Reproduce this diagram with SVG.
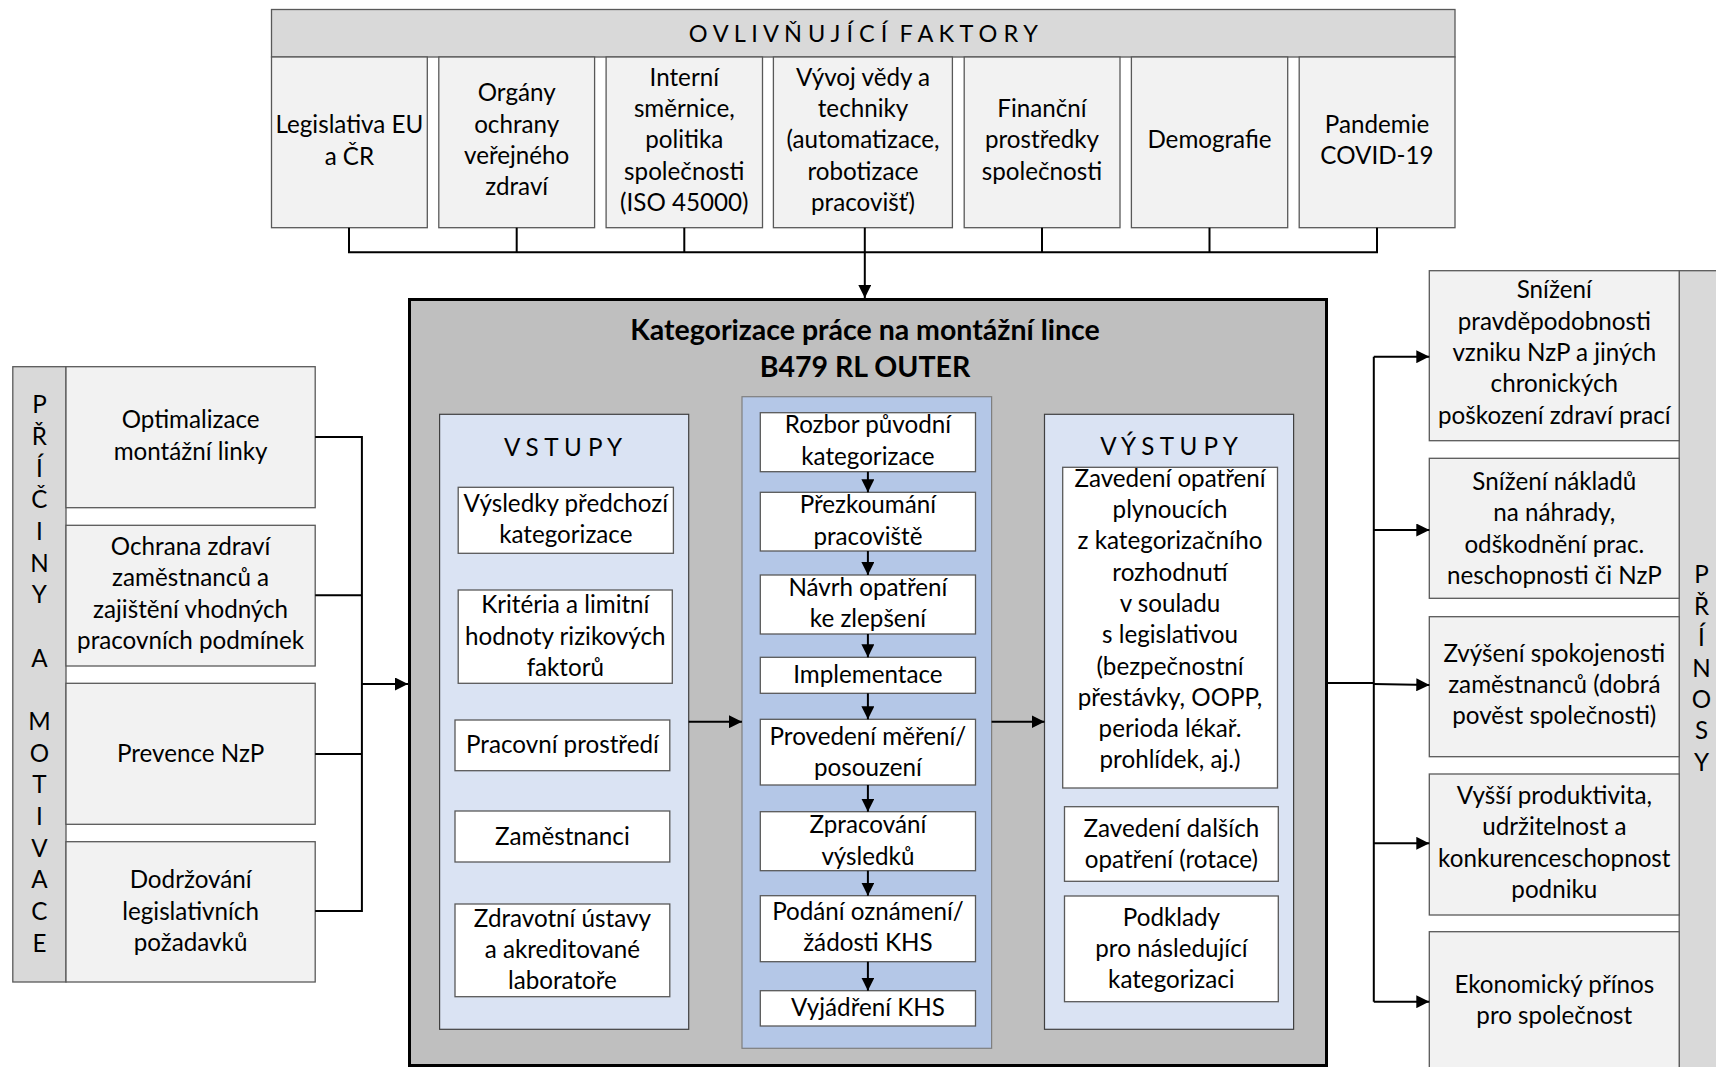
<svg xmlns="http://www.w3.org/2000/svg" width="1716" height="1067" viewBox="0 0 1716 1067">
<style>
text{font-family:Lato,"Open Sans","Liberation Sans",sans-serif;font-size:24.2px;fill:#000;text-anchor:middle}
.b{font-weight:bold;font-size:28.5px}
.h{font-size:23.5px;white-space:pre}
.box{fill:#f2f2f2;stroke:#595959;stroke-width:1.3}
.hdr{fill:#d9d9d9;stroke:#595959;stroke-width:1.3}
.wb{fill:#fff;stroke:#595959;stroke-width:1.3}
.pin{fill:#dae3f3;stroke:#404040;stroke-width:1.2}
.pproc{fill:#b4c7e7;stroke:#7f7f7f;stroke-width:1.2}
.ln{fill:none;stroke:#000;stroke-width:2}
.arr{fill:none;stroke:#000;stroke-width:2;marker-end:url(#ah)}
</style>
<defs>
<marker id="ah" viewBox="0 0 12 12" refX="12" refY="6" markerWidth="13" markerHeight="13" markerUnits="userSpaceOnUse" orient="auto">
<path d="M0,0 L12,6 L0,12 z" fill="#000"/>
</marker>
</defs>
<rect width="1716" height="1067" fill="#fff"/>

<!-- Main container -->
<g id="main">
<rect x="409.5" y="299.5" width="917" height="766" fill="#bfbfbf" stroke="#000" stroke-width="3"/>
<text class="b" x="865" y="340">Kategorizace práce na montážní lince</text>
<text class="b" x="865" y="376.5">B479 RL OUTER</text>
</g>

<!-- Top factors -->
<g id="factors-header">
<rect class="hdr" x="271.5" y="9.5" width="1183.5" height="47.5"/>
<text class="h" x="863.3" y="41.5" xml:space="preserve">O V L I V Ň U J Í C Í  F A K T O R Y</text>
</g>
<g id="f1"><rect class="box" x="271.5" y="57" width="155.8" height="170.7"/>
<text x="349.4" y="133.3">Legislativa EU</text><text x="349.4" y="164.6">a ČR</text></g>
<g id="f2"><rect class="box" x="438.8" y="57" width="155.8" height="170.7"/>
<text x="516.7" y="101.4">Orgány</text><text x="516.7" y="132.7">ochrany</text><text x="516.7" y="164">veřejného</text><text x="516.7" y="195.3">zdraví</text></g>
<g id="f3"><rect class="box" x="606.1" y="57" width="156.4" height="170.7"/>
<text x="684.3" y="85.7">Interní</text><text x="684.3" y="117">směrnice,</text><text x="684.3" y="148.3">politika</text><text x="684.3" y="179.6">společnosti</text><text x="684.3" y="210.9">(ISO 45000)</text></g>
<g id="f4"><rect class="box" x="773.4" y="57" width="179" height="170.7"/>
<text x="863" y="85.7">Vývoj vědy a</text><text x="863" y="117">techniky</text><text x="863" y="148.3">(automatizace,</text><text x="863" y="179.6">robotizace</text><text x="863" y="210.9">pracovišť)</text></g>
<g id="f5"><rect class="box" x="964.2" y="57" width="155.8" height="170.7"/>
<text x="1042" y="117">Finanční</text><text x="1042" y="148.3">prostředky</text><text x="1042" y="179.6">společnosti</text></g>
<g id="f6"><rect class="box" x="1131.4" y="57" width="156.3" height="170.7"/>
<text x="1209.5" y="148.3">Demografie</text></g>
<g id="f7"><rect class="box" x="1299.2" y="57" width="155.8" height="170.7"/>
<text x="1377" y="132.7">Pandemie</text><text x="1377" y="164">COVID-19</text></g>

<!-- Left causes -->
<g id="causes-label">
<rect class="hdr" x="12.8" y="366.7" width="53.2" height="615.3"/>
<text x="39.4" y="413.3">P</text><text x="39.4" y="445">Ř</text><text x="39.4" y="476.6">Í</text><text x="39.4" y="508.3">Č</text><text x="39.4" y="540">I</text><text x="39.4" y="571.6">N</text><text x="39.4" y="603.3">Y</text>
<text x="39.4" y="666.6">A</text>
<text x="39.4" y="730">M</text><text x="39.4" y="761.6">O</text><text x="39.4" y="793.3">T</text><text x="39.4" y="825">I</text><text x="39.4" y="856.6">V</text><text x="39.4" y="888.3">A</text><text x="39.4" y="920">C</text><text x="39.4" y="951.6">E</text>
</g>
<g id="c1"><rect class="box" x="66" y="366.7" width="249.2" height="141"/>
<text x="190.6" y="428.3">Optimalizace</text><text x="190.6" y="459.6">montážní linky</text></g>
<g id="c2"><rect class="box" x="66" y="525.3" width="249.2" height="140.7"/>
<text x="190.6" y="555">Ochrana zdraví</text><text x="190.6" y="586.3">zaměstnanců a</text><text x="190.6" y="617.6">zajištění vhodných</text><text x="190.6" y="648.9">pracovních podmínek</text></g>
<g id="c3"><rect class="box" x="66" y="683.3" width="249.2" height="141"/>
<text x="190.6" y="761.7">Prevence NzP</text></g>
<g id="c4"><rect class="box" x="66" y="841.7" width="249.2" height="140.3"/>
<text x="190.6" y="888.3">Dodržování</text><text x="190.6" y="919.6">legislativních</text><text x="190.6" y="950.9">požadavků</text></g>

<!-- VSTUPY panel -->
<g id="vstupy">
<rect class="pin" x="439.6" y="414.3" width="249.1" height="615"/>
<text x="563" y="456">V S T U P Y</text>
</g>
<g id="in1"><rect class="wb" x="458.2" y="487.3" width="215.2" height="66"/>
<text x="565.8" y="511.7">Výsledky předchozí</text><text x="565.8" y="543">kategorizace</text></g>
<g id="in2"><rect class="wb" x="458.2" y="590" width="214.1" height="93.3"/>
<text x="565.3" y="613.3">Kritéria a limitní</text><text x="565.3" y="644.6">hodnoty rizikových</text><text x="565.3" y="675.9">faktorů</text></g>
<g id="in3"><rect class="wb" x="455" y="720" width="214.8" height="50.7"/>
<text x="562.4" y="753.3">Pracovní prostředí</text></g>
<g id="in4"><rect class="wb" x="455" y="811" width="214.8" height="51"/>
<text x="562.4" y="845">Zaměstnanci</text></g>
<g id="in5"><rect class="wb" x="455" y="904" width="214.8" height="92.7"/>
<text x="562.4" y="926.7">Zdravotní ústavy</text><text x="562.4" y="958">a akreditované</text><text x="562.4" y="989.3">laboratoře</text></g>

<!-- Process panel -->
<g id="process"><rect class="pproc" x="742" y="396.7" width="249.6" height="651.6"/></g>
<g id="p1"><rect class="wb" x="760.3" y="412.7" width="215.2" height="59"/>
<text x="867.9" y="433.3">Rozbor původní</text><text x="867.9" y="464.6">kategorizace</text></g>
<g id="p2"><rect class="wb" x="760.3" y="492.3" width="215.2" height="58.7"/>
<text x="867.9" y="513.3">Přezkoumání</text><text x="867.9" y="544.6">pracoviště</text></g>
<g id="p3"><rect class="wb" x="760.3" y="575" width="215.2" height="59"/>
<text x="867.9" y="596">Návrh opatření</text><text x="867.9" y="627.3">ke zlepšení</text></g>
<g id="p4"><rect class="wb" x="760.3" y="657.3" width="215.2" height="36"/>
<text x="867.9" y="682.5">Implementace</text></g>
<g id="p5"><rect class="wb" x="760.3" y="719.3" width="215.2" height="65.7"/>
<text x="867.9" y="745">Provedení měření/</text><text x="867.9" y="776.3">posouzení</text></g>
<g id="p6"><rect class="wb" x="760.3" y="811.7" width="215.2" height="59"/>
<text x="867.9" y="833.3">Zpracování</text><text x="867.9" y="864.6">výsledků</text></g>
<g id="p7"><rect class="wb" x="760.3" y="895.7" width="215.2" height="66"/>
<text x="867.9" y="920">Podání oznámení/</text><text x="867.9" y="951.3">žádosti KHS</text></g>
<g id="p8"><rect class="wb" x="760.3" y="990.7" width="215.2" height="35.3"/>
<text x="867.9" y="1015.5">Vyjádření KHS</text></g>

<!-- VÝSTUPY panel -->
<g id="vystupy">
<rect class="pin" x="1044.5" y="414.3" width="249.1" height="615"/>
<text x="1169" y="455">V Ý S T U P Y</text>
</g>
<g id="out1"><rect class="wb" x="1062.7" y="467.3" width="214.8" height="320.7"/>
<text x="1170" y="486.7">Zavedení opatření</text><text x="1170" y="518">plynoucích</text><text x="1170" y="549.3">z kategorizačního</text><text x="1170" y="580.6">rozhodnutí</text><text x="1170" y="611.9">v souladu</text><text x="1170" y="643.2">s legislativou</text><text x="1170" y="674.5">(bezpečnostní</text><text x="1170" y="705.8">přestávky, OOPP,</text><text x="1170" y="737.1">perioda lékař.</text><text x="1170" y="768.4">prohlídek, aj.)</text></g>
<g id="out2"><rect class="wb" x="1064.5" y="806.7" width="213.8" height="74.6"/>
<text x="1171.4" y="836.7">Zavedení dalších</text><text x="1171.4" y="868">opatření (rotace)</text></g>
<g id="out3"><rect class="wb" x="1064.5" y="896" width="213.8" height="105.7"/>
<text x="1171.4" y="925.5">Podklady</text><text x="1171.4" y="956.8">pro následující</text><text x="1171.4" y="988">kategorizaci</text></g>

<!-- Right benefits -->
<g id="benefits-label">
<rect class="hdr" x="1679.2" y="270.7" width="40" height="800"/>
<text x="1701.5" y="583.3">P</text><text x="1701.5" y="614.5">Ř</text><text x="1701.5" y="645.7">Í</text><text x="1701.5" y="676.9">N</text><text x="1701.5" y="708.1">O</text><text x="1701.5" y="739.3">S</text><text x="1701.5" y="770.5">Y</text>
</g>
<g id="b1"><rect class="box" x="1429.3" y="270.7" width="249.9" height="170"/>
<text x="1554.3" y="298.3">Snížení</text><text x="1554.3" y="329.6">pravděpodobnosti</text><text x="1554.3" y="360.9">vzniku NzP a jiných</text><text x="1554.3" y="392.2">chronických</text><text x="1554.3" y="423.5">poškození zdraví prací</text></g>
<g id="b2"><rect class="box" x="1429.3" y="458.3" width="249.9" height="140"/>
<text x="1554.3" y="490">Snížení nákladů</text><text x="1554.3" y="521.3">na náhrady,</text><text x="1554.3" y="552.6">odškodnění prac.</text><text x="1554.3" y="583.9">neschopnosti či NzP</text></g>
<g id="b3"><rect class="box" x="1429.3" y="616.7" width="249.9" height="140"/>
<text x="1554.3" y="661.7">Zvýšení spokojenosti</text><text x="1554.3" y="693">zaměstnanců (dobrá</text><text x="1554.3" y="724.3">pověst společnosti)</text></g>
<g id="b4"><rect class="box" x="1429.3" y="774" width="249.9" height="141"/>
<text x="1554.3" y="803.9">Vyšší produktivita,</text><text x="1554.3" y="835.2">udržitelnost a</text><text x="1554.3" y="866.5">konkurenceschopnost</text><text x="1554.3" y="897.8">podniku</text></g>
<g id="b5"><rect class="box" x="1429.3" y="931.7" width="249.9" height="150"/>
<text x="1554.3" y="993">Ekonomický přínos</text><text x="1554.3" y="1024.3">pro společnost</text></g>

<!-- Connectors -->
<g id="connectors">
<path class="ln" d="M349,227.7 V252.3 H1377 V227.7 M516.7,227.7 V252.3 M684.3,227.7 V252.3 M1042,227.7 V252.3 M1209.5,227.7 V252.3"/>
<path class="arr" d="M864.8,227.7 V298"/>
<path class="ln" d="M315.2,437 H361.9 V911 H315.2 M315.2,595.3 H361.9 M315.2,754 H361.9"/>
<path class="arr" d="M361.9,684 H408"/>
<path class="arr" d="M688.7,721.7 H742"/>
<path class="arr" d="M991.6,721.7 H1044.5"/>
<path class="arr" d="M867.9,471.7 V492.3"/>
<path class="arr" d="M867.9,551 V575"/>
<path class="arr" d="M867.9,634 V657.3"/>
<path class="arr" d="M867.9,693.3 V719.3"/>
<path class="arr" d="M867.9,785 V811.7"/>
<path class="arr" d="M867.9,870.7 V895.7"/>
<path class="arr" d="M867.9,961.7 V990.7"/>
<path class="ln" d="M1328,683 H1373.8 M1373.8,356.7 V1001.7"/>
<path class="arr" d="M1373.8,356.7 H1429.3"/>
<path class="arr" d="M1373.8,530 H1429.3"/>
<path class="arr" d="M1373.8,684 L1429.3,685"/>
<path class="arr" d="M1373.8,843.3 H1429.3"/>
<path class="arr" d="M1373.8,1001.7 H1429.3"/>
</g>
</svg>
